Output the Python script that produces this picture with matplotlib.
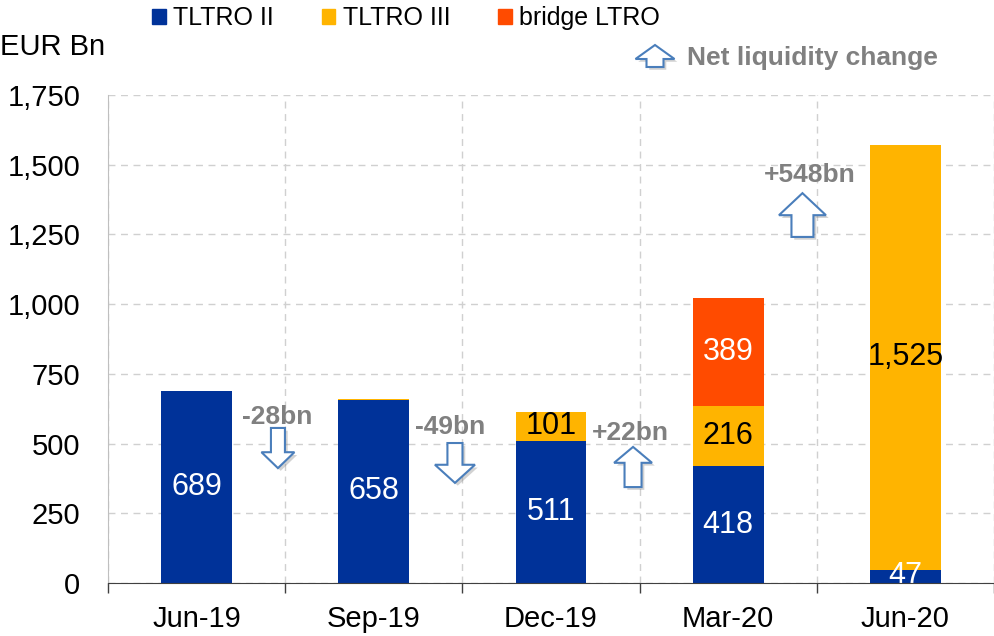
import matplotlib
matplotlib.use('Agg')
import matplotlib.pyplot as plt
import matplotlib.patheffects as pe
from matplotlib.patches import FancyArrow, Patch
from matplotlib import ticker
import numpy as np

plt.rcParams['font.family'] = ['Liberation Sans', 'DejaVu Sans']

# data (EUR bn)
quarters = ['Jun-19', 'Sep-19', 'Dec-19', 'Mar-20', 'Jun-20']
tltro2 = [689, 658, 511, 418, 47]
tltro3 = [0, 3, 101, 216, 1525]
bridge = [0, 0, 0, 389, 0]
net_change = ['-28bn', '-49bn', '+22bn', '+548bn']
change_dir = [-1, -1, 1, 1]

blue = '#003299'
yellow = '#FFB400'
red = '#FF4B00'
arrow_col = '#4A7EBB'
grey_txt = '#808080'

fig = plt.figure(figsize=(9.94, 6.36), dpi=100)
ax = fig.add_axes([108/994, 53/636, 886/994, 488/636])

x = np.arange(len(quarters))
w = 0.4
ax.bar(x, tltro2, w, color=blue, zorder=3)
ax.bar(x, tltro3, w, bottom=tltro2, color=yellow, zorder=3)
bot3 = np.array(tltro2) + np.array(tltro3)
ax.bar(x, bridge, w, bottom=bot3, color=red, zorder=3)

def lab(v):
    return '{:,}'.format(v)

for i in range(len(quarters)):
    if tltro2[i] > 0:
        ax.text(x[i], tltro2[i]/2, lab(tltro2[i]), ha='center', va='center',
                color='white', fontsize=22, zorder=5)
    if tltro3[i] > 20:
        ax.text(x[i], tltro2[i] + tltro3[i]/2, lab(tltro3[i]), ha='center', va='center',
                color='black', fontsize=22, zorder=5)
    if bridge[i] > 0:
        ax.text(x[i], bot3[i] + bridge[i]/2, lab(bridge[i]), ha='center', va='center',
                color='white', fontsize=22, zorder=5)

# arrows between quarters: (x centre, tail y, length, head len, head width, shaft width)
arrow_geo = [(0.459, 556, 144, 57, 0.186, 0.079),
             (1.458, 502, 143, 65, 0.226, 0.085),
             (2.463, 344, 144, 57, 0.214, 0.096),
             (3.419, 1241, 157, 79, 0.265, 0.124)]
label_pos = [(0.453, 595), (1.43, 559), (2.45, 538), (3.46, 1463)]

shadow = [pe.SimplePatchShadow(offset=(2, -2), shadow_rgbFace='#808080', alpha=0.35), pe.Normal()]
for (cx, y0, ln, hl, hw, sw), d, txt, (tx, ty) in zip(arrow_geo, change_dir, net_change, label_pos):
    arr = FancyArrow(cx, y0, 0, d*ln, width=sw, head_width=hw, head_length=hl,
                     length_includes_head=True, facecolor='white', edgecolor=arrow_col,
                     linewidth=1.5, zorder=4)
    arr.set_path_effects(shadow)
    ax.add_patch(arr)
    ax.text(tx, ty, txt, ha='center', va='center', color=grey_txt,
            fontsize=19, fontweight='bold', zorder=5)

ax.set_xlim(-0.5, 4.5)
ax.set_ylim(0, 1750)
ax.set_yticks(np.arange(0, 1751, 250))
ax.yaxis.set_major_formatter(ticker.FuncFormatter(lambda v, p: '{:,.0f}'.format(v)))
ax.tick_params(axis='y', length=0, pad=20, labelsize=21)

ax.set_xticks(np.arange(-0.5, 4.6, 1))
ax.set_xticklabels([])
ax.set_xticks(x, minor=True)
ax.set_xticklabels(quarters, minor=True)
ax.tick_params(axis='x', which='major', direction='out', length=7, width=1, color='#404040')
ax.tick_params(axis='x', which='minor', length=0, pad=16, labelsize=21)

ax.grid(True, axis='y', which='major', linestyle=(0, (5, 4)), color='#D0D0D0', linewidth=1, zorder=0)
ax.grid(True, axis='x', which='major', linestyle=(0, (5, 4)), color='#D0D0D0', linewidth=1, zorder=0)

for s in ['top', 'right']:
    ax.spines[s].set_visible(False)
ax.spines['left'].set_color('#BFBFBF')
ax.spines['bottom'].set_color('#404040')
ax.spines['bottom'].set_zorder(6)

# legend
handles = [Patch(color=blue, label='TLTRO II'),
           Patch(color=yellow, label='TLTRO III'),
           Patch(color=red, label='bridge LTRO')]
fig.legend(handles=handles, loc='center left', bbox_to_anchor=(152/994, (636-18)/636), ncol=3,
           frameon=False, fontsize=18, handlelength=0.55, handleheight=0.55,
           handletextpad=0.3, columnspacing=1.9, borderpad=0, borderaxespad=0)

fig.text(0.0, 0.926, 'EUR Bn', fontsize=21, ha='left', va='center')

# legend for net liquidity arrow
larr = FancyArrow(655/994, (636-67)/636, 0, 22/636, width=17/994, head_width=39/994,
                  head_length=14/636, length_includes_head=True, transform=fig.transFigure,
                  facecolor='white', edgecolor=arrow_col, linewidth=1.5)
larr.set_path_effects(shadow)
fig.patches.append(larr)
fig.text(687/994, (636-58)/636, 'Net liquidity change', fontsize=19, fontweight='bold',
         color=grey_txt, ha='left', va='center')

fig.savefig('out.png', dpi=100)
